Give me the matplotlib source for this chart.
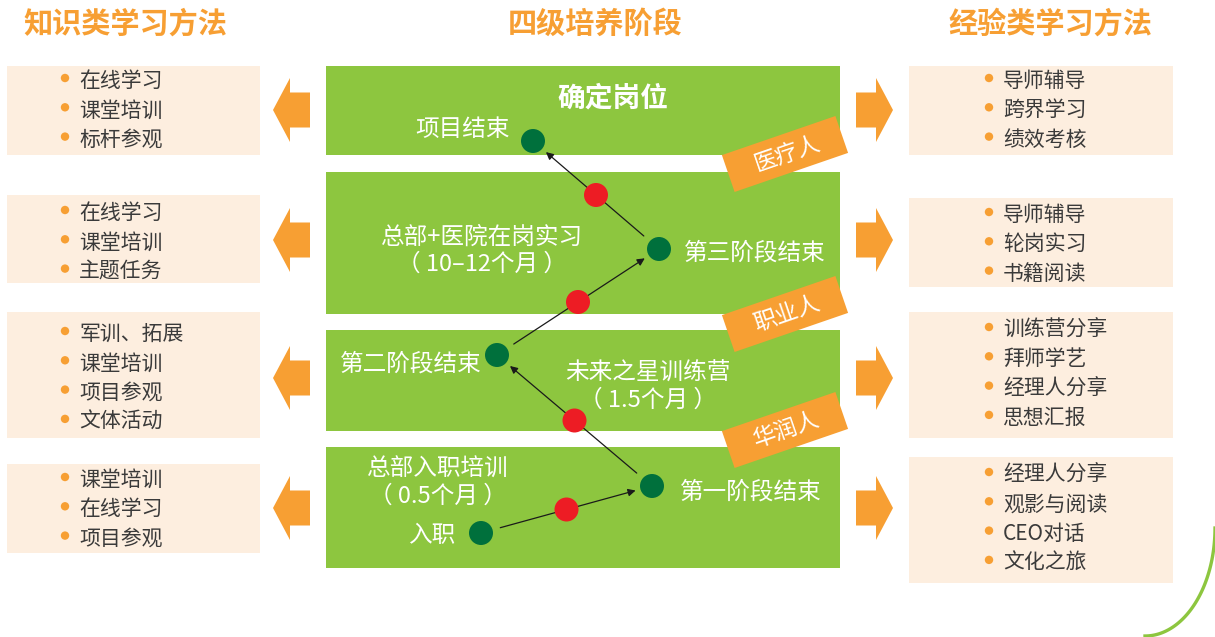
import matplotlib.pyplot as plt
from matplotlib.patches import Rectangle, Polygon, Circle
import numpy as np

plt.rcParams['font.family'] = ['Noto Sans CJK SC', 'DejaVu Sans']

# ---- data ----
headers = ["知识类学习方法", "四级培养阶段", "经验类学习方法"]
left_items = [
    ["在线学习", "课堂培训", "标杆参观"],
    ["在线学习", "课堂培训", "主题任务"],
    ["军训、拓展", "课堂培训", "项目参观", "文体活动"],
    ["课堂培训", "在线学习", "项目参观"],
]
right_items = [
    ["导师辅导", "跨界学习", "绩效考核"],
    ["导师辅导", "轮岗实习", "书籍阅读"],
    ["训练营分享", "拜师学艺", "经理人分享", "思想汇报"],
    ["经理人分享", "观影与阅读", "CEO对话", "文化之旅"],
]
stage_titles = ["确定岗位",
                ["总部+医院在岗实习", "（ 10–12个月 ）"],
                ["未来之星训练营", "（ 1.5个月 ）"],
                ["总部入职培训", "（ 0.5个月 ）"]]
milestones = ["入职", "第一阶段结束", "第二阶段结束", "第三阶段结束", "项目结束"]
tags = ["医疗人", "职业人", "华润人"]

# ---- layout (pixel coords) ----
GREEN = "#8DC63F"
CREAM = "#FDEEDF"
ORANGE = "#F79F33"
DKGREEN = "#00703C"
RED = "#ED1C24"
TXT = "#3A3A3A"
DY = 2  # CJK glyphs sit a little high with va=center

fig = plt.figure(figsize=(12.15, 6.37), dpi=100)
ax = fig.add_axes([0, 0, 1, 1])
ax.set_xlim(0, 1215)
ax.set_ylim(637, 0)
ax.axis("off")

# headers
for x, h in zip([125, 595, 1050], headers):
    ax.text(x, 22 + DY, h, ha="center", va="center", fontsize=21,
            fontweight="bold", color=ORANGE)

# green stage bars
bars = [(66, 155), (172, 314), (330, 431), (447, 568)]
for y0, y1 in bars:
    ax.add_patch(Rectangle((326, y0), 840 - 326, y1 - y0, color=GREEN, lw=0))

# side boxes
left_boxes = [(66, 155), (195, 283), (312, 438), (464, 553)]
left_rows0 = [79, 211, 332, 478]
right_boxes = [(66, 155), (198, 287), (312, 438), (457, 583)]
right_rows0 = [79, 213, 328, 473]
step = 29.3


def draw_box(x0, x1, box, row0, items, dotx):
    y0, y1 = box
    ax.add_patch(Rectangle((x0, y0), x1 - x0, y1 - y0, color=CREAM, lw=0))
    for i, it in enumerate(items):
        y = row0 + i * step
        ax.add_patch(Circle((dotx, y - 1), 4.2, color=ORANGE, lw=0))
        ax.text(dotx + 14, y + DY, it, ha="left", va="center", fontsize=15, color=TXT)


for box, r0, items in zip(left_boxes, left_rows0, left_items):
    draw_box(7, 260, box, r0, items, 65)
for box, r0, items in zip(right_boxes, right_rows0, right_items):
    draw_box(909, 1173, box, r0, items, 989)

# block arrows
arrow_y = [110, 240, 378, 508]
for cy in arrow_y:
    left = [(273, cy), (290, cy - 32), (290, cy - 17.5), (310, cy - 17.5),
            (310, cy + 17.5), (290, cy + 17.5), (290, cy + 32)]
    ax.add_patch(Polygon(left, closed=True, color=ORANGE, lw=0))
    right = [(893, cy), (876, cy - 32), (876, cy - 17.5), (856, cy - 17.5),
             (856, cy + 17.5), (876, cy + 17.5), (876, cy + 32)]
    ax.add_patch(Polygon(right, closed=True, color=ORANGE, lw=0))

# stage titles
ax.text(613, 97 + DY, stage_titles[0], ha="center", va="center", fontsize=20,
        fontweight="bold", color="white")
for (x, y), lines in zip([(482, 235), (648, 371), (438, 467)], stage_titles[1:]):
    ax.text(x, y + DY, lines[0], ha="center", va="center", fontsize=17, color="white")
    ax.text(x, y + 27 + DY, lines[1], ha="center", va="center", fontsize=17, color="white")

# milestone nodes and path
nodes = [(481, 533), (652, 486), (497, 355), (659, 249), (533, 141)]
for (xa, ya), (xb, yb) in zip(nodes[:-1], nodes[1:]):
    d = np.hypot(xb - xa, yb - ya)
    ux, uy = (xb - xa) / d, (yb - ya) / d
    ax.annotate("", xy=(xb - ux * 17, yb - uy * 17),
                xytext=(xa + ux * 20, ya + uy * 20),
                arrowprops=dict(arrowstyle="-|>", color="#1a1a1a", lw=0.9,
                                mutation_scale=11, shrinkA=0, shrinkB=0))
    ax.add_patch(Circle(((xa + xb) / 2, (ya + yb) / 2), 12, color=RED, lw=0, zorder=3))
for (x, y) in nodes:
    ax.add_patch(Circle((x, y), 12, color=DKGREEN, lw=0, zorder=3))

label_pos = [(455, 534, "right"), (680, 490, "left"), (482, 362, "right"),
             (684, 251, "left"), (510, 128, "right")]
for (x, y, ha), m in zip(label_pos, milestones):
    ax.text(x, y + DY, m, ha=ha, va="center", fontsize=17, color="white")

# rotated tags
ang = np.deg2rad(19)
u = np.array([np.cos(ang), -np.sin(ang)])
v = np.array([np.sin(ang), np.cos(ang)])
for cy, t in zip([154, 314, 430], tags):
    c = np.array([785, cy])
    w, h = 120, 39
    pts = [c - u * w / 2 - v * h / 2, c + u * w / 2 - v * h / 2,
           c + u * w / 2 + v * h / 2, c - u * w / 2 + v * h / 2]
    ax.add_patch(Polygon(pts, closed=True, color=ORANGE, lw=0, zorder=4))
    ax.text(c[0] + 2, c[1], t, ha="center", va="center", rotation=19,
            fontsize=16.5, color="white", zorder=5)

# decorative curve bottom right
th = np.linspace(0, np.pi / 2, 60)
ax.plot(1145 + 70 * np.cos(th), 528 + 108 * np.sin(th), color=GREEN, lw=2.4)

fig.savefig("out.png", dpi=100)
